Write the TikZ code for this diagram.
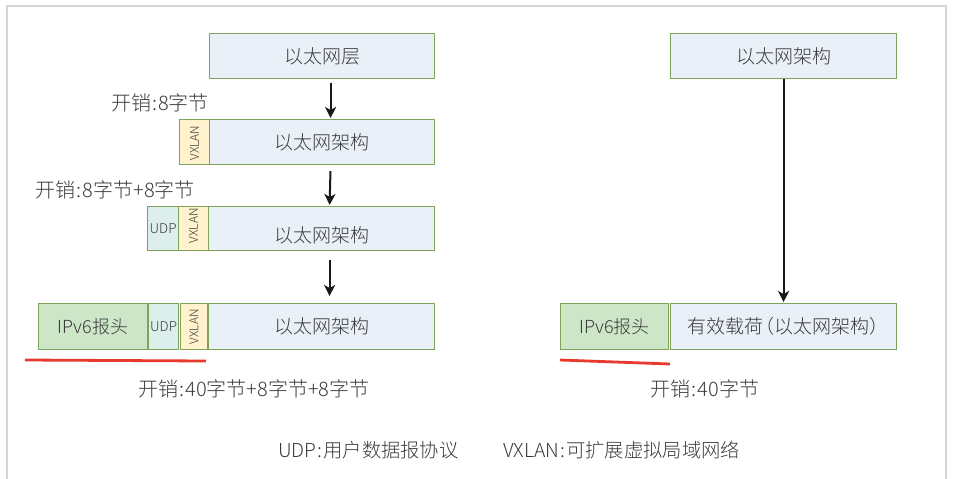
\documentclass[tikz,border=0pt]{standalone}
\usepackage{fontspec}
\setmainfont{Noto Sans CJK SC}[UprightFont={* Light}]
\usetikzlibrary{arrows.meta}
\definecolor{bdr}{HTML}{7FA35A}
\definecolor{ethfill}{HTML}{EAF0F8}
\definecolor{vxfill}{HTML}{FFF2CC}
\definecolor{udpfill}{HTML}{DCEFEC}
\definecolor{ipfill}{HTML}{CDE6C8}
\definecolor{txt}{HTML}{3A3A3A}
\definecolor{redl}{HTML}{E8392E}
\definecolor{framec}{HTML}{D6D6D6}
\newcommand{\boxfont}{\fontsize{19pt}{21pt}\selectfont}
\newcommand{\ipfont}{\fontsize{18pt}{20pt}\selectfont}
\newcommand{\notefont}{\fontsize{20pt}{22pt}\selectfont}
\newcommand{\legfont}{\fontsize{19.3pt}{21pt}\selectfont}
\newcommand{\smallfont}{\fontsize{12pt}{13pt}\selectfont}
\newcommand{\udpfont}{\fontsize{13.5pt}{14pt}\selectfont}
\newcommand{\cl}{\hspace{1pt}:\hspace{1pt}}
\tikzset{
  fld/.style={draw=bdr, line width=1.2pt, inner sep=0pt, anchor=north west, text=txt, font=\boxfont},
  ethbox/.style={fld, fill=ethfill},
  vxbox/.style={fld, fill=vxfill},
  udpbox/.style={fld, fill=udpfill, font=\udpfont},
  ipbox/.style={fld, fill=ipfill, font=\ipfont},
  note/.style={text=txt, font=\notefont, inner sep=0pt},
  legend/.style={text=txt, font=\legfont, inner sep=0pt},
  vtext/.style={text=txt, font=\smallfont, inner sep=0pt, rotate=90},
  arr/.style={draw=black!90, line width=2pt, -{Stealth[length=11pt,width=11pt,inset=3pt]}},
  redline/.style={draw=redl, line width=2.8pt},
}
\begin{document}
\begin{tikzpicture}[x=1pt,y=-1pt]
\useasboundingbox (0,0) rectangle (954,479);
\clip (0,0) rectangle (954,479);
\draw[framec, line width=1.6pt] (7,6) rectangle (946,495);

% left column
\node[ethbox, minimum width=225pt, minimum height=45pt] (A) at (209,33) {以太网层};

\node[vxbox, minimum width=30pt, minimum height=45pt] (V1) at (179,119) {};
\node[ethbox, minimum width=225pt, minimum height=45pt] (E1) at (209,119) {以太网架构};
\node[vtext] (V1t) at ([yshift=-1pt]V1.center) {VXLAN};

\node[udpbox, minimum width=31pt, minimum height=44pt] (U2) at (147,206) {UDP};
\node[vxbox, minimum width=30pt, minimum height=44pt] (V2) at (178,206) {};
\node[vtext] (V2t) at ([yshift=3pt]V2.center) {VXLAN};
\node[ethbox, minimum width=226pt, minimum height=44pt, text height=31pt, text depth=4pt] (E2) at (208,206) {以太网架构};

\node[ipbox, minimum width=109pt, minimum height=46pt] (I3) at (38,303) {IPv6报头};
\node[udpbox, minimum width=30pt, minimum height=46pt] (U3) at (148,303) {UDP};
\node[vxbox, minimum width=27pt, minimum height=46pt] (V3) at (180,303) {};
\node[vtext] (V3t) at (V3.center) {VXLAN};
\node[ethbox, minimum width=226pt, minimum height=46pt] (E3) at (208,303) {以太网架构};

\draw[arr, shorten <=4pt, shorten >=1pt] ([xshift=8.5pt]A.south) -- ([xshift=8.5pt]E1.north);
\draw[arr, shorten <=6pt, shorten >=1pt] ([xshift=8.5pt]E1.south) -- ([xshift=8pt]E2.north);
\draw[arr, shorten <=9pt, shorten >=7pt] ([xshift=8pt]E2.south) -- ([xshift=8pt]E3.north);

\node[note, anchor=east] (n1) at (209,103) {开销\cl 8字节};
\node[note, anchor=east] (n2) at (195,190) {开销\cl 8字节+8字节};

\coordinate (r1a) at (25,360);
\coordinate (r1b) at (206,361);
\draw[redline] (r1a) -- (r1b);
\node[note] (n3) at (254,389) {开销\cl 40字节+8字节+8字节};

% right column
\node[ethbox, minimum width=226pt, minimum height=45pt] (R1) at (670,33) {以太网架构};
\node[ipbox, minimum width=108pt, minimum height=46pt] (RI) at (560,303) {IPv6报头\hspace{6pt}};
\node[ethbox, minimum width=226pt, minimum height=46pt] (RP) at (670,303) {\hspace{8pt}有效载荷\hspace{-8pt}（以太网架构）\hspace{-9pt}};
\draw[arr, shorten >=1pt] (R1.south) -- (RP.north);

\coordinate (r2a) at (560,360);
\coordinate (r2b) at (670,364);
\draw[redline] (r2a) -- (r2b);
\node[note] (n4) at (705,389) {开销\cl 40字节};

% legend
\node[legend, anchor=west] (l1) at (278,450) {UDP\cl 用户数据报协议};
\node[legend, anchor=west] (l2) at (503,450) {VXLAN\cl 可扩展虚拟局域网络};
\end{tikzpicture}
\end{document}
